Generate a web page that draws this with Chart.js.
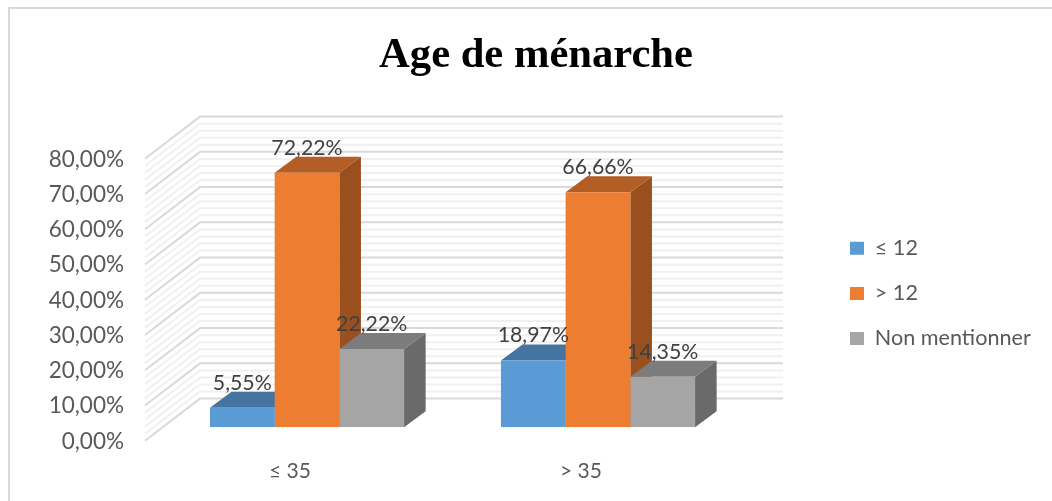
<!DOCTYPE html>
<html><head><meta charset="utf-8">
<style>html,body{margin:0;padding:0;background:#fff}canvas{display:block}</style>
<script src="https://cdn.jsdelivr.net/npm/chart.js@4"></script>
</head><body><div style="width:1052px;height:501px"><canvas id="c" width="1052" height="501"></canvas></div>
<script>
const categories = ['≤ 35', '> 35'];
const lowAge = [5.55, 18.97];
const highAge = [72.22, 66.66];
const notStated = [22.22, 14.35];
const seriesNames = ['≤ 12', '> 12', 'Non mentionner'];
const frontColors = ['#5B9BD5', '#ED7D31', '#A5A5A5'];
const topColors = ['#44749F', '#B25E25', '#7C7C7C'];
const sideColors = ['#3B648A', '#9A4F1E', '#6A6A6A'];

const fmt = v => v.toFixed(2).replace('.', ',') + '%';
const FONT = 'Lato, "Open Sans", sans-serif';

const depth3d = {
  id: 'depth3d',
  beforeLayout(chart) {
    const l = chart.legend;
    if (!l._wideFit) {
      const fit = l.fit;
      l.fit = function () { fit.call(this); this.width = 308.5; };
      l._wideFit = true;
    }
  },
  afterLayout(chart) {
    const l = chart.legend;
    l.left = 850 - l.options.labels.padding;
    l.top = 237.5 - l.options.labels.padding;
  },
  beforeDatasetsDraw(chart) {
    const { ctx, scales: { y }, chartArea: a } = chart;
    ctx.save();
    // frame: top and left edges only
    ctx.strokeStyle = '#d9d9d9'; ctx.lineWidth = 2;
    ctx.beginPath();
    ctx.moveTo(9, 501); ctx.lineTo(9, 8); ctx.lineTo(1052, 8);
    ctx.stroke();
    // walls
    const drawLine = (v, major) => {
      const py = y.getPixelForValue(v);
      ctx.beginPath();
      ctx.moveTo(a.left - 16.5, py + 13.4);
      ctx.lineTo(a.left + 38.5, py - 28.7);
      ctx.lineTo(a.right + 39.5, py - 28.7);
      ctx.strokeStyle = major ? '#d9d9d9' : '#f0f0f0';
      ctx.lineWidth = 2;
      ctx.stroke();
    };
    for (let v = 0; v <= 80; v += 2) if (v % 10) drawLine(v, false);
    for (let v = 0; v <= 80; v += 10) drawLine(v, true);
    // bar depth faces
    const dx = 21.6, dy = -16;
    chart.data.datasets.forEach((ds, di) => {
      chart.getDatasetMeta(di).data.forEach(bar => {
        const L = bar.x - bar.width / 2, R = bar.x + bar.width / 2, T = bar.y, B = bar.base;
        ctx.fillStyle = sideColors[di];
        ctx.beginPath();
        ctx.moveTo(R, T); ctx.lineTo(R + dx, T + dy); ctx.lineTo(R + dx, B + dy); ctx.lineTo(R, B);
        ctx.closePath(); ctx.fill();
        ctx.fillStyle = topColors[di];
        ctx.beginPath();
        ctx.moveTo(L, T); ctx.lineTo(L + dx, T + dy); ctx.lineTo(R + dx, T + dy); ctx.lineTo(R, T);
        ctx.closePath(); ctx.fill();
      });
    });
    ctx.restore();
  },
  afterDatasetsDraw(chart) {
    const { ctx } = chart;
    ctx.save();
    ctx.font = '21.3px ' + FONT;
    ctx.fillStyle = '#404040';
    ctx.textAlign = 'center';
    ctx.textBaseline = 'middle';
    chart.data.datasets.forEach((ds, di) => {
      chart.getDatasetMeta(di).data.forEach((bar, i) => {
        ctx.fillText(fmt(ds.data[i]), bar.x, bar.y - 25);
      });
    });
    ctx.restore();
  }
};

new Chart(document.getElementById('c'), {
  type: 'bar',
  data: {
    labels: categories,
    datasets: [lowAge, highAge, notStated].map((d, i) => ({
      label: seriesNames[i], data: d, backgroundColor: frontColors[i], borderWidth: 0
    }))
  },
  options: {
    responsive: false,
    animation: false,
    layout: { padding: { left: 20, right: 0, top: 0, bottom: 0 } },
    datasets: { bar: { categoryPercentage: 0.667, barPercentage: 1 } },
    scales: {
      x: {
        grid: { display: false }, border: { display: false },
        afterFit(s) { s.height = 73.7; },
        ticks: { padding: 23, labelOffset: -17, color: '#595959', font: { family: FONT, size: 21 }, maxRotation: 0 }
      },
      y: {
        min: 0, max: 80,
        grid: { display: false }, border: { display: false },
        afterFit(s) { s.width = 141.5; },
        ticks: { stepSize: 10, padding: 29.5, labelOffset: 14, color: '#595959', font: { family: FONT, size: 22.5 }, callback: v => fmt(v) }
      }
    },
    plugins: {
      title: {
        display: true, text: 'Age de ménarche', color: '#000',
        font: { family: '"Liberation Serif"', size: 42.6, weight: 'bold', lineHeight: 1.2 },
        padding: { top: 30.9, bottom: 63.3 }
      },
      legend: {
        position: 'right', align: 'start',
        labels: { boxWidth: 14, boxHeight: 13, padding: 23.5, color: '#595959', font: { family: FONT, size: 21.6 } }
      },
      tooltip: { enabled: false }
    }
  },
  plugins: [depth3d]
});
</script></body></html>
